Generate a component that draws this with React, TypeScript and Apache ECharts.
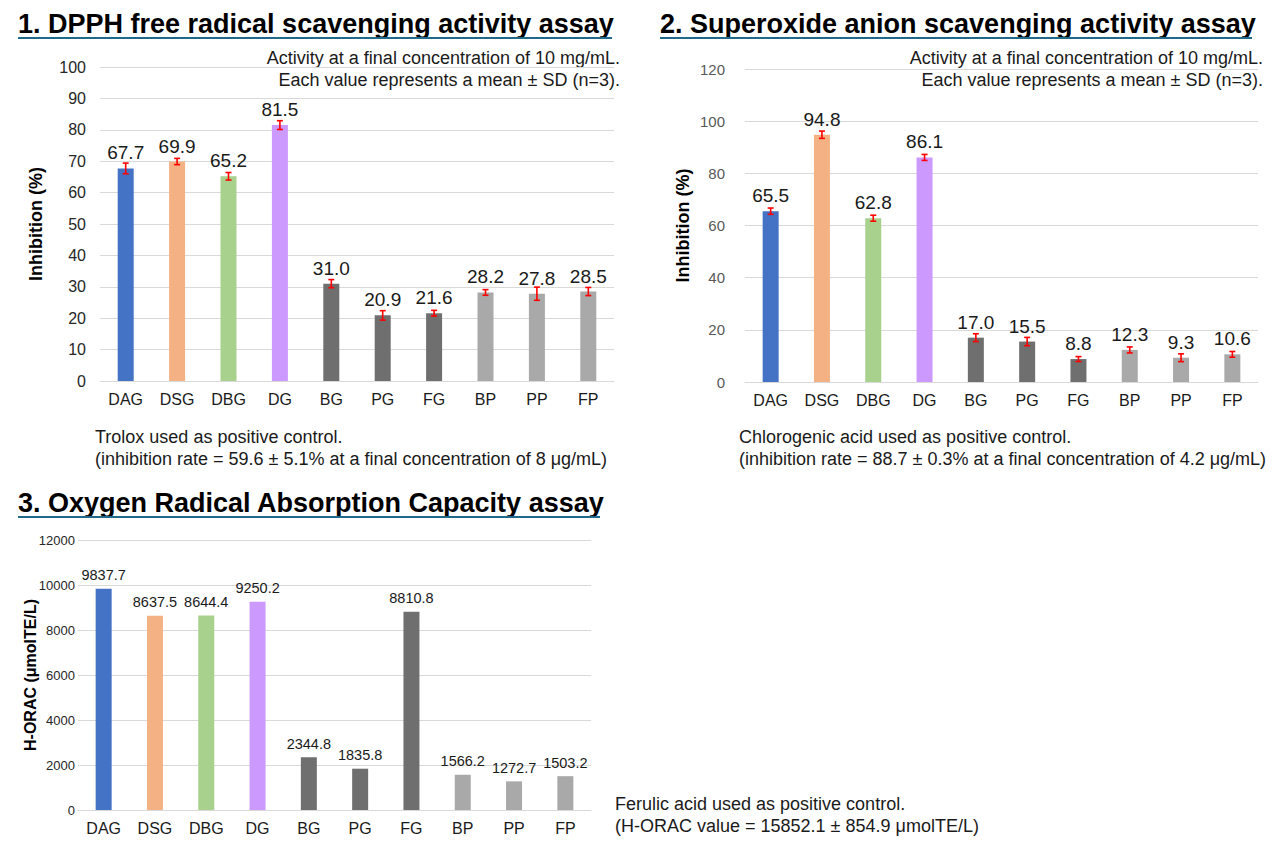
import React, { useEffect, useRef } from "react";
import * as echarts from "echarts";

const categories = ["DAG", "DSG", "DBG", "DG", "BG", "PG", "FG", "BP", "PP", "FP"];
const barColors = ["#4472C4", "#F4B183", "#A9D18E", "#CC99FF", "#6F6F6F", "#6F6F6F", "#6F6F6F", "#A9A9A9", "#A9A9A9", "#A9A9A9"];

const dpphValues = [67.7, 69.9, 65.2, 81.5, 31.0, 20.9, 21.6, 28.2, 27.8, 28.5];
const dpphSD = [1.7, 1.0, 1.2, 1.4, 1.3, 1.5, 0.9, 0.9, 2.1, 1.3];

const superoxideValues = [65.5, 94.8, 62.8, 86.1, 17.0, 15.5, 8.8, 12.3, 9.3, 10.6];
const superoxideSD = [1.2, 1.4, 1.15, 1.15, 1.5, 1.6, 0.95, 1.15, 1.5, 1.1];

const oracValues = [9837.7, 8637.5, 8644.4, 9250.2, 2344.8, 1835.8, 8810.8, 1566.2, 1272.7, 1503.2];

const titles = [
  "1. DPPH free radical scavenging activity assay",
  "2. Superoxide anion scavenging activity assay",
  "3. Oxygen Radical Absorption Capacity assay",
];

const FONT = "Arial, 'Liberation Sans', sans-serif";

function errorSeries(idx: number, values: number[], sds: number[]) {
  return {
    type: "custom",
    xAxisIndex: idx,
    yAxisIndex: idx,
    z: 10,
    silent: true,
    data: values.map((v, i) => [i, v - sds[i], v + sds[i]]),
    encode: { x: 0, y: [1, 2] },
    renderItem: (params: any, api: any) => {
      const x = api.value(0);
      const p1 = api.coord([x, api.value(1)]);
      const p2 = api.coord([x, api.value(2)]);
      const w = 3;
      const style = { stroke: "#FF0000", lineWidth: 1.6 };
      return {
        type: "group",
        children: [
          { type: "line", shape: { x1: p1[0], y1: p1[1], x2: p2[0], y2: p2[1] }, style },
          { type: "line", shape: { x1: p1[0] - w, y1: p1[1], x2: p1[0] + w, y2: p1[1] }, style },
          { type: "line", shape: { x1: p2[0] - w, y1: p2[1], x2: p2[0] + w, y2: p2[1] }, style },
        ],
      };
    },
  };
}

function barSeries(idx: number, values: number[], labelSize: number, dist: number) {
  return {
    type: "bar",
    xAxisIndex: idx,
    yAxisIndex: idx,
    barWidth: 16,
    data: values.map((v, i) => ({ value: v, itemStyle: { color: barColors[i] } })),
    label: {
      show: true,
      position: "top",
      distance: dist,
      fontSize: labelSize,
      fontFamily: FONT,
      color: "#1a1a1a",
      formatter: (p: any) => Number(p.value).toFixed(1),
    },
  };
}

function xAxis(idx: number) {
  return {
    type: "category",
    gridIndex: idx,
    data: categories,
    axisLine: { lineStyle: { color: "#D9D9D9", width: 1 } },
    axisTick: { show: false },
    axisLabel: { color: "#1a1a1a", fontSize: 16, fontFamily: FONT, margin: 10 },
  };
}

function yAxis(
  idx: number,
  max: number,
  interval: number,
  name: string,
  labelSize: number,
  labelColor: string,
  labelMargin: number,
  nameGap: number,
  nameSize: number
) {
  return {
    type: "value",
    gridIndex: idx,
    min: 0,
    max,
    interval,
    name,
    nameLocation: "middle",
    nameGap,
    nameMoveOverlap: false,
    nameTextStyle: { fontSize: nameSize, fontWeight: "bold", color: "#000", fontFamily: FONT },
    axisLine: { show: false },
    axisTick: { show: false },
    axisLabel: {
      fontSize: labelSize,
      color: labelColor,
      fontFamily: FONT,
      margin: labelMargin,
      formatter: (v: number) => String(v),
    },
    splitLine: { lineStyle: { color: "#D9D9D9", width: 1 } },
  };
}

function titleGraphic(text: string, x: number, y: number, lineEnd: number, lineY: number) {
  return [
    {
      type: "text",
      x,
      y,
      style: { text, font: `bold 27px ${FONT}`, fill: "#000", verticalAlign: "middle", align: "left" },
    },
    {
      type: "rect",
      shape: { x, y: lineY, width: lineEnd - x, height: 2 },
      style: { fill: "#1F6A8A" },
    },
  ];
}

function note(text: string, x: number, y: number, align: string) {
  return {
    type: "text",
    x,
    y,
    style: { text, font: `18px ${FONT}`, fill: "#1a1a1a", verticalAlign: "middle", align },
  };
}

export default function App() {
  const ref = useRef<HTMLDivElement>(null);
  useEffect(() => {
    if (!ref.current) return;
    const chart = echarts.init(ref.current, null, { renderer: "svg" });
    chart.setOption({
      animation: false,
      backgroundColor: "#FFFFFF",
      grid: [
        { left: 100, top: 67, width: 514, height: 314 },
        { left: 745, top: 69, width: 513, height: 313 },
        { left: 78, top: 540, width: 513, height: 270 },
      ],
      xAxis: [xAxis(0), xAxis(1), xAxis(2)],
      yAxis: [
        yAxis(0, 100, 10, "Inhibition (%)", 16, "#262626", 14, 55, 18),
        yAxis(1, 120, 20, "Inhibition (%)", 15, "#595959", 20, 53, 18),
        yAxis(2, 12000, 2000, "H-ORAC (μmolTE/L)", 13, "#262626", 3, 40, 16),
      ],
      series: [
        barSeries(0, dpphValues, 19, 6),
        errorSeries(0, dpphValues, dpphSD),
        barSeries(1, superoxideValues, 19, 6),
        errorSeries(1, superoxideValues, superoxideSD),
        barSeries(2, oracValues, 14.5, 6),
      ],
      graphic: [
        ...titleGraphic(titles[0], 18, 24, 612, 37),
        ...titleGraphic(titles[1], 660, 24, 1252, 37),
        ...titleGraphic(titles[2], 18, 503, 600, 516),
        note("Activity at a final concentration of 10 mg/mL.", 620, 58, "right"),
        note("Each value represents a mean ± SD (n=3).", 620, 80, "right"),
        note("Activity at a final concentration of 10 mg/mL.", 1263, 58, "right"),
        note("Each value represents a mean ± SD (n=3).", 1263, 80, "right"),
        note("Trolox used as positive control.", 95, 437, "left"),
        note("(inhibition rate = 59.6 ± 5.1% at a final concentration of 8 μg/mL)", 95, 459, "left"),
        note("Chlorogenic acid used as positive control.", 739, 437, "left"),
        note("(inhibition rate = 88.7 ± 0.3% at a final concentration of 4.2 μg/mL)", 739, 459, "left"),
        note("Ferulic acid used as positive control.", 615, 804, "left"),
        note("(H-ORAC value = 15852.1 ± 854.9 μmolTE/L)", 615, 826, "left"),
      ],
    });
    return () => chart.dispose();
  }, []);
  return (
    <div
      ref={ref}
      style={{ position: "fixed", left: 0, top: 0, width: 1280, height: 857, background: "#fff" }}
    />
  );
}
